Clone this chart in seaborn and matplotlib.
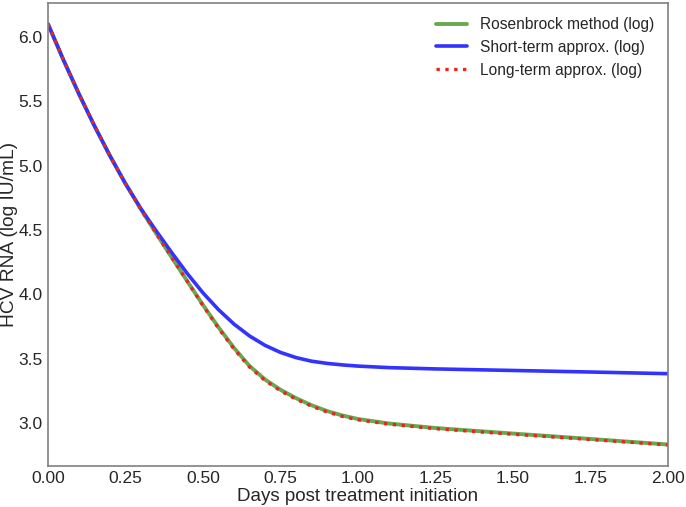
import numpy as np
import pandas as pd
import matplotlib
matplotlib.use("Agg")
import matplotlib.pyplot as plt
import seaborn as sns

# Days post treatment initiation
days = [0.00, 0.05, 0.10, 0.15, 0.20, 0.25, 0.30, 0.35, 0.40, 0.45, 0.50,
        0.55, 0.60, 0.65, 0.70, 0.75, 0.80, 0.85, 0.90, 0.95, 1.00,
        1.10, 1.25, 1.50, 1.75, 2.00]

# log10 HCV RNA
rosenbrock = [6.10, 5.82, 5.556, 5.308, 5.076, 4.86, 4.66, 4.47, 4.284, 4.10, 3.918,
              3.745, 3.585, 3.445, 3.34, 3.26, 3.195, 3.14, 3.095, 3.06, 3.033,
              2.998, 2.963, 2.92, 2.878, 2.835]
short_term = [6.10, 5.82, 5.556, 5.308, 5.076, 4.86, 4.665, 4.49, 4.322, 4.16, 4.012,
              3.882, 3.77, 3.678, 3.605, 3.55, 3.51, 3.482, 3.465, 3.453, 3.444,
              3.432, 3.422, 3.41, 3.398, 3.385]
long_term = [6.10, 5.82, 5.556, 5.308, 5.076, 4.86, 4.66, 4.47, 4.284, 4.10, 3.913,
             3.738, 3.577, 3.437, 3.332, 3.252, 3.187, 3.133, 3.088, 3.053, 3.027,
             2.993, 2.958, 2.915, 2.874, 2.832]

sns.set_style("white")
plt.rcParams['font.family'] = ['Liberation Sans', 'DejaVu Sans']

fig = plt.figure(figsize=(6.86, 5.07), dpi=100)
ax = fig.add_axes([0.07, 0.081, 0.9038, 0.913])

df = pd.DataFrame({'days': days, 'ros': rosenbrock, 'short': short_term, 'long': long_term})

sns.lineplot(data=df, x='days', y='ros', ax=ax, color='#6aa84f', lw=2.8,
             label='Rosenbrock method (log)')
sns.lineplot(data=df, x='days', y='short', ax=ax, color='#3333ff', lw=2.6,
             label='Short-term approx. (log)')
sns.lineplot(data=df, x='days', y='long', ax=ax, color='#e8251f', lw=2.4,
             linestyle=':', label='Long-term approx. (log)')

ax.set_xlim(0, 2)
ax.set_xticks(np.arange(0, 2.01, 0.25))
ax.set_xticklabels([f"{t:.2f}" for t in np.arange(0, 2.01, 0.25)])
ax.set_yticks(np.arange(3.0, 6.01, 0.5))
ax.margins(y=0.05)
ax.tick_params(labelsize=12.5, length=0, pad=4)
ax.set_xlabel("Days post treatment initiation", fontsize=13.5, labelpad=1)
ax.set_ylabel("HCV RNA (log IU/mL)", fontsize=13.8)
ax.yaxis.set_label_coords(-0.048, 0.5)

for s in ax.spines.values():
    s.set_color('0.5')
    s.set_linewidth(1.2)

ax.legend(loc='upper right', frameon=False, fontsize=11.2, handlelength=2.0)

fig.savefig("out.png", dpi=100)
